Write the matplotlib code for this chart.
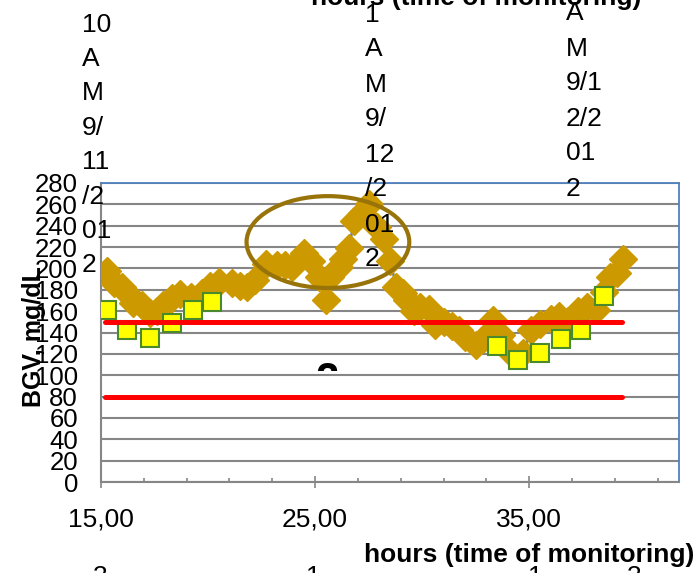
import matplotlib
matplotlib.use('Agg')
import numpy as np
import matplotlib.pyplot as plt
from matplotlib.patches import Ellipse
from matplotlib.transforms import Bbox

plt.rcParams['font.family'] = ['Liberation Sans', 'DejaVu Sans']

# CGM readings (hours since start, mg/dL)
hours = [15.3, 15.6, 16.0, 16.3, 16.5, 16.9, 17.3, 17.6, 17.9, 18.3, 18.7, 19.2,
         19.7, 20.1, 20.5, 21.1, 21.5, 21.8, 22.2, 22.7, 23.2, 23.6, 23.9, 24.5,
         24.8, 25.2, 25.5, 25.7, 26.1, 26.3, 26.6, 26.8, 27.2, 27.5, 27.9, 28.2,
         28.5, 28.8, 29.1, 29.3, 29.6, 29.9, 30.3, 30.6, 31.0, 31.4, 31.7, 32.0,
         32.5, 32.9, 33.3, 33.7, 34.0, 34.7, 35.1, 35.5, 36.0, 36.4, 36.8, 37.3,
         37.7, 38.1, 38.5, 38.8, 39.1, 39.4]
bgv = [198, 186, 183, 175, 168, 166, 158, 160, 166, 172, 176, 173,
       177, 184, 187, 186, 184, 183, 189, 204, 203, 203, 201, 214,
       207, 192, 170, 192, 201, 209, 219, 244, 252, 260, 239, 228,
       207, 183, 177, 170, 160, 164, 162, 147, 150, 146, 142, 136,
       128, 135, 152, 138, 124, 121, 142, 148, 153, 155, 151, 160,
       164, 161, 178, 192, 196, 209]

# capillary (meter) readings
meter_hours = [15.3, 16.2, 17.3, 18.3, 19.3, 20.2, 33.5, 34.5, 35.5, 36.5, 37.4, 38.5]
meter_bgv = [161, 142, 135, 149, 161, 169, 127, 114, 121, 134, 142, 174]

limits = [150, 80]
limit_span = [15.2, 39.35]

x_ticks = [15, 25, 35]
x_tick_labels = ['15,00', '25,00', '35,00']
y_ticks = list(range(0, 281, 20))

left_date = ['10', 'A', 'M', '9/', '11', '/2', '01', '2']
mid_date = ['1', 'A', 'M', '9/', '12', '/2', '01', '2']
right_date = ['A', 'M', '9/1', '2/2', '01', '2']
bottom_bits = [('3', 100), ('1', 313), ('1', 535), ('3', 634)]

W, H = 698, 573
fig = plt.figure(figsize=(W / 100, H / 100), dpi=100)
ax = fig.add_axes([101 / W, 91 / H, 578 / W, 299 / H])

ax.plot(hours, bgv, color='#4F81BD', lw=1.8, marker='D', ms=14,
        mfc='#CC9900', mec='#CC9900', mew=1, zorder=3)
ax.plot(meter_hours, meter_bgv, ls='none', marker='s', ms=13.5,
        mfc='#FFFF00', mec='#4A8A2A', mew=1.5, zorder=4)
for lvl in limits:
    ax.plot(limit_span, [lvl, lvl], color='#FF0000', lw=3.6,
            solid_capstyle='round', zorder=5)

ax.add_patch(Ellipse((25.6, 224.7), width=7.6, height=86, fill=False,
                     edgecolor='#98730A', lw=3, zorder=6))

ax.set_xlim(15, 42)
ax.set_ylim(0, 280)
ax.set_xticks(x_ticks, x_tick_labels)
ax.set_xticks(np.arange(17, 42, 2), minor=True)
ax.set_yticks(y_ticks)
ax.yaxis.grid(True, color='#868686', lw=1.5)
ax.set_axisbelow(True)

for side in ['top', 'right']:
    ax.spines[side].set_color('#4F81BD')
    ax.spines[side].set_linewidth(1.3)
for side in ['left', 'bottom']:
    ax.spines[side].set_color('#868686')
    ax.spines[side].set_linewidth(1.5)

ax.tick_params(axis='x', which='major', direction='inout', length=8.6,
               width=1.2, color='#868686', labelsize=19, pad=13.7)
ax.tick_params(axis='x', which='minor', direction='in', length=3,
               width=1.2, color='#868686')
ax.tick_params(axis='y', length=0, labelsize=18.5, pad=16.5)

fig.text(34 / W, 1 - 337 / H, 'BGV, mg/dL', rotation=90, fontsize=18,
         fontweight='bold', ha='center', va='center')
fig.text(529 / W, 1 - 555 / H, 'hours (time of monitoring)', fontsize=19,
         fontweight='bold', ha='center', va='center')
fig.text(476 / W, 1 - 5 / H, 'hours (time of monitoring)', fontsize=19,
         fontweight='bold', ha='center', va='baseline')

# wrapped date labels spilling over the chart
for lines, x0, base, step in [(left_date, 82, 31.5, 34.4),
                              (mid_date, 365, 21.5, 35.0),
                              (right_date, 566, 20.5, 35.0)]:
    for i, s in enumerate(lines):
        fig.text(x0 / W, 1 - (base + i * step) / H, s, fontsize=19,
                 ha='left', va='baseline')

for s, xc in bottom_bits:
    fig.text(xc / W, 1 - 584 / H, s, fontsize=19, ha='center', va='baseline')

t = fig.text(327 / W, 1 - 392 / H, '2', fontsize=30, fontweight='bold',
             ha='center', va='baseline')
t.set_clip_box(Bbox.from_extents(290, H - 371, 370, H - 350))
t.set_clip_on(True)

fig.savefig('out.png', dpi=100)
